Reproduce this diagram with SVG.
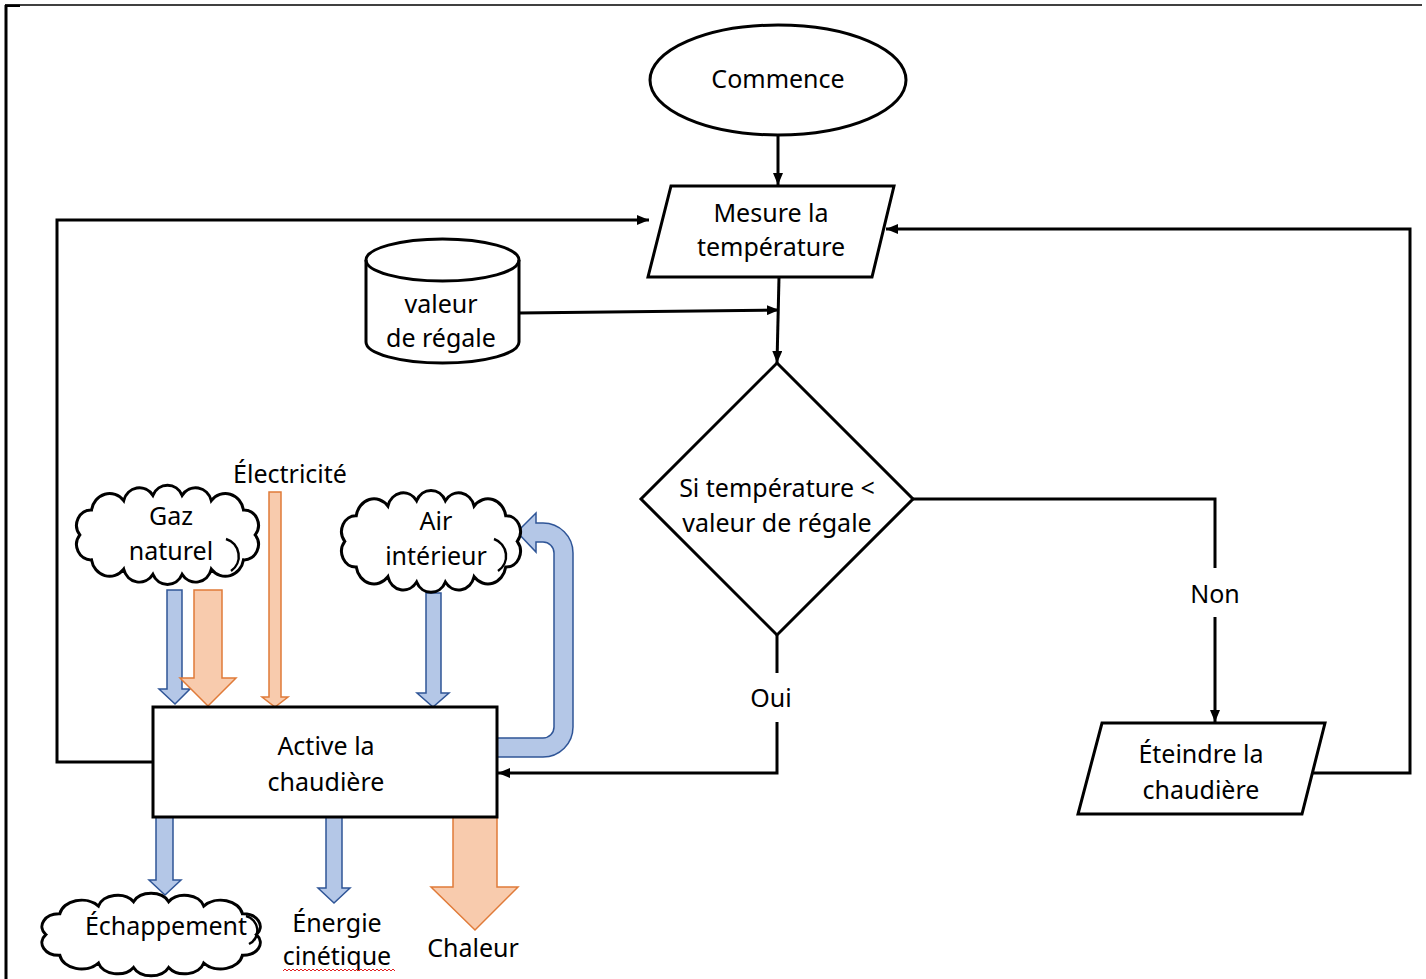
<svg xmlns="http://www.w3.org/2000/svg" xmlns:xlink="http://www.w3.org/1999/xlink" width="1426" height="979" viewBox="0 0 1426 979">
<style>
.shape{fill:#fff;stroke:#000;stroke-width:3}
.conn{fill:none;stroke:#000;stroke-width:3}
.t{font-family:"Noto Sans","Open Sans",sans-serif;font-size:25px;fill:#000;text-anchor:middle}
.blue{fill:#B4C7E7;stroke:#2F5597;stroke-width:1.5}
.orange{fill:#F8CBAD;stroke:#E07B39;stroke-width:1.5}
.cloud{fill:#fff;stroke:#000;stroke-width:3;vector-effect:non-scaling-stroke}
.curl{fill:none;stroke:#000;stroke-width:2.5}
.lbl{fill:#fff;stroke:none}
</style>
<defs>
<marker id="ah" markerUnits="userSpaceOnUse" markerWidth="12" markerHeight="10" refX="12" refY="5" orient="auto">
<path d="M0,0 L12,5 L0,10 Z" fill="#000"/>
</marker>
<path id="cloudp" class="cloud" d="M10,50 A14.7,14.7 0 0 1 22,26 A18.8,18.8 0 0 1 55,17 A16.7,16.7 0 0 1 85,12 A16.5,16.5 0 0 1 115,12 A16.7,16.7 0 0 1 145,17 A18.8,18.8 0 0 1 178,26 A14.7,14.7 0 0 1 190,50 A14.7,14.7 0 0 1 178,74 A18.8,18.8 0 0 1 145,83 A16.7,16.7 0 0 1 115,88 A16.5,16.5 0 0 1 85,88 A16.7,16.7 0 0 1 55,83 A18.8,18.8 0 0 1 22,74 A14.7,14.7 0 0 1 10,50 Z"/>
</defs>
<rect width="1426" height="979" fill="#fff"/>
<g id="frame">
<line x1="5" y1="5" x2="1422" y2="5" stroke="#000" stroke-width="1.5"/>
<line x1="6" y1="5" x2="6" y2="979" stroke="#000" stroke-width="3"/>
<rect x="5" y="4.5" width="15" height="2.5" fill="#000"/>
</g>
<g id="connectors">
<path class="conn" d="M778,135 L778,185" marker-end="url(#ah)"/>
<path class="conn" d="M153,762 L57,762 L57,220 L649,220" marker-end="url(#ah)"/>
<path class="conn" d="M1313,773 L1410,773 L1410,229 L886,229" marker-end="url(#ah)"/>
<path class="conn" d="M779,277 L777,363" marker-end="url(#ah)"/>
<path class="conn" d="M519,313 L779,310" marker-end="url(#ah)"/>
<path class="conn" d="M913,499 L1215,499 L1215,722" marker-end="url(#ah)"/>
<path class="conn" d="M777,635 L777,773 L498,773" marker-end="url(#ah)"/>
<rect class="lbl" x="1115" y="568" width="200" height="49"/>
<text class="t" x="1215" y="603">Non</text>
<rect class="lbl" x="672" y="673" width="200" height="49"/>
<text class="t" x="771" y="707">Oui</text>
</g>
<g id="commence">
<ellipse class="shape" cx="778" cy="80" rx="128" ry="55"/>
<text class="t" x="778" y="88">Commence</text>
</g>
<g id="mesure">
<polygon class="shape" points="671,186 894,186 872,277 648,277"/>
<text class="t" x="771" y="222">Mesure la</text>
<text class="t" x="771" y="256">température</text>
</g>
<g id="valeur">
<path class="shape" d="M366,260 A76.5,21 0 0 1 519,260 L519,342 A76.5,21 0 0 1 366,342 Z"/>
<path class="conn" d="M366,260 A76.5,21 0 0 0 519,260"/>
<text class="t" x="441" y="313">valeur</text>
<text class="t" x="441" y="347">de régale</text>
</g>
<g id="decision">
<polygon class="shape" points="777,363 913,499 777,635 641,499"/>
<text class="t" x="777" y="497">Si température &lt;</text>
<text class="t" x="777" y="532">valeur de régale</text>
</g>
<g id="eteindre">
<polygon class="shape" points="1102,723 1325,723 1302,814 1078,814"/>
<text class="t" x="1201" y="763">Éteindre la</text>
<text class="t" x="1201" y="799">chaudière</text>
</g>
<g id="flows">
<polygon class="blue" points="167,590 182,590 182,689 190,689 175,704 159,689 167,689"/>
<polygon class="orange" points="194,590 222,590 222,678 236,678 208,706 180,678 194,678"/>
<polygon class="orange" points="269,492 281,492 281,697 288,697 275,707 262,697 269,697"/>
<polygon class="blue" points="426,593 441,593 441,693 449,693 433,707 417,693 426,693"/>
<path class="blue" d="M497,757 L543,757 A30,30 0 0 0 573,727 L573,553 A30,30 0 0 0 543,523 L536,523 L536,513 L517,532 L536,552 L536,542 L543,542 A11,11 0 0 1 554,553 L554,727 A11,11 0 0 1 543,738 L497,738 Z"/>
<polygon class="blue" points="156,817 173,817 173,880 181,880 165,895 149,880 156,880"/>
<polygon class="blue" points="326,817 342,817 342,888 350,888 334,903 318,888 326,888"/>
<polygon class="orange" points="453,817 497,817 497,887 518,887 475,930 431,887 453,887"/>
</g>
<g id="active">
<rect class="shape" x="153" y="707" width="344" height="110"/>
<text class="t" x="326" y="755">Active la</text>
<text class="t" x="326" y="791">chaudière</text>
</g>
<g id="gaz">
<use xlink:href="#cloudp" transform="translate(70.1,482.9) scale(0.974,1.04)"/>
<path class="curl" d="M226,539 A18,18 0 0 1 231,571"/>
<text class="t" x="171" y="525">Gaz</text>
<text class="t" x="171" y="560">naturel</text>
</g>
<g id="electricite">
<text class="t" x="290" y="483">Électricité</text>
</g>
<g id="air">
<use xlink:href="#cloudp" transform="translate(335.2,487.9) scale(0.958,1.07)"/>
<path class="curl" d="M494,539 A18,18 0 0 1 498,571"/>
<text class="t" x="436" y="530">Air</text>
<text class="t" x="436" y="565">intérieur</text>
</g>
<g id="echappement">
<use xlink:href="#cloudp" transform="translate(34.1,891.3) scale(1.17,0.865)"/>
<path class="curl" d="M246,916 A15,15 0 0 1 249,944"/>
<text class="t" x="166" y="935">Échappement</text>
</g>
<g id="energie">
<text class="t" x="337" y="932">Énergie</text>
<text class="t" x="337" y="965">cinétique</text>
<path d="M283,971 l2,-2 l2,2 l2,-2 l2,2 l2,-2 l2,2 l2,-2 l2,2 l2,-2 l2,2 l2,-2 l2,2 l2,-2 l2,2 l2,-2 l2,2 l2,-2 l2,2 l2,-2 l2,2 l2,-2 l2,2 l2,-2 l2,2 l2,-2 l2,2 l2,-2 l2,2 l2,-2 l2,2 l2,-2 l2,2 l2,-2 l2,2 l2,-2 l2,2 l2,-2 l2,2 l2,-2 l2,2 l2,-2 l2,2 l2,-2 l2,2 l2,-2 l2,2 l2,-2 l2,2 l2,-2 l2,2 l2,-2 l2,2 l2,-2 l2,2 l2,-2 l2,2" fill="none" stroke="#E02020" stroke-width="1"/>
</g>
<g id="chaleur">
<text class="t" x="473" y="957">Chaleur</text>
</g>
</svg>
